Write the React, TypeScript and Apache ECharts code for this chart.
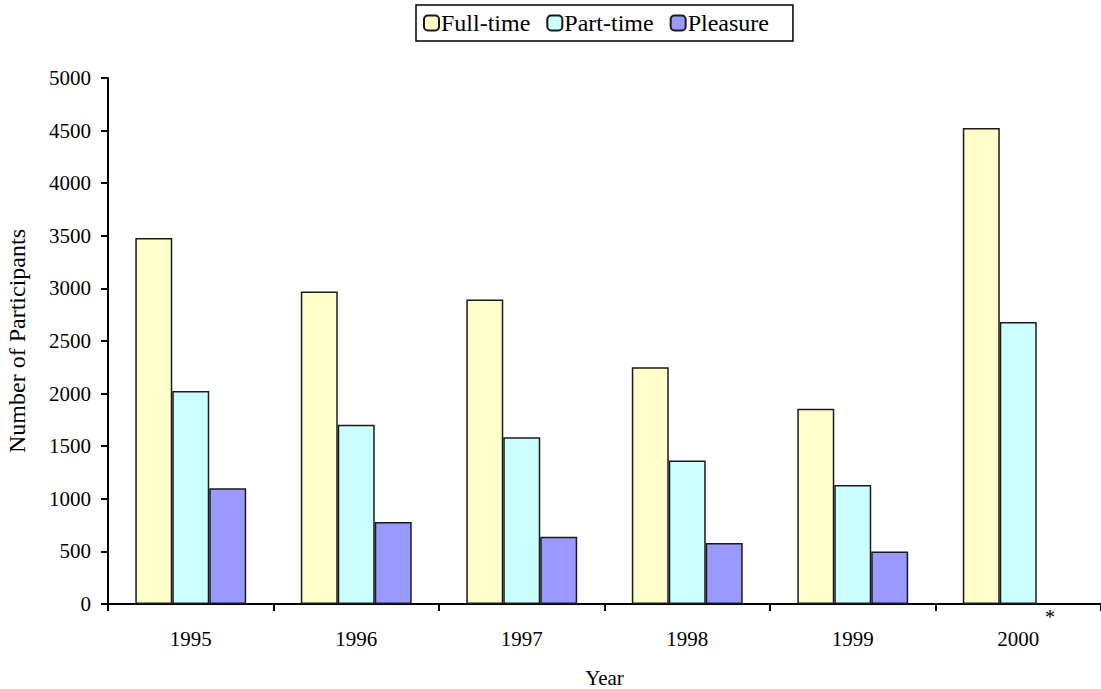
import React, { useEffect, useRef } from "react";
import * as echarts from "echarts";

const years = ["1995", "1996", "1997", "1998", "1999", "2000"];
const fullTime = [3480, 2970, 2895, 2250, 1855, 4525];
const partTime = [2025, 1705, 1585, 1365, 1130, 2680];
const pleasure = [1100, 780, 640, 580, 500, null];
const yTicks = { min: 0, max: 5000, interval: 500 };

const FONT = '"Liberation Serif", "Times New Roman", serif';

export default function App() {
  const ref = useRef<HTMLDivElement>(null);
  useEffect(() => {
    if (!ref.current) return;
    const chart = echarts.init(ref.current, undefined, { renderer: "svg" });
    const mkSeries = (name: string, data: (number | null)[], color: string) => ({
      name,
      type: "bar",
      data,
      barGap: "0%",
      barCategoryGap: "33%",
      itemStyle: { color, borderColor: "#1a1a1a", borderWidth: 1.5 },
    });
    chart.setOption({
      animation: false,
      backgroundColor: "#ffffff",
      textStyle: { fontFamily: FONT, color: "#000" },
      legend: {
        top: 5,
        left: 416,
        itemWidth: 15,
        itemHeight: 15,
        itemGap: 16,
        padding: [6, 24, 6, 7],
        borderColor: "#000",
        borderWidth: 1.5,
        textStyle: { fontFamily: FONT, fontSize: 24, color: "#000", padding: [0, 0, 0, -3] },
        data: ["Full-time", "Part-time", "Pleasure"],
      },
      grid: { left: 108, right: 0, top: 78, bottom: 85, containLabel: false, outerBoundsMode: "none" },
      xAxis: {
        type: "category",
        data: years,
        name: "Year",
        nameLocation: "middle",
        nameGap: 63,
        nameTextStyle: { fontFamily: FONT, fontSize: 21, color: "#000" },
        axisLine: { lineStyle: { color: "#000", width: 2 } },
        axisTick: { show: true, alignWithLabel: false, length: 7, lineStyle: { color: "#000", width: 2 } },
        axisLabel: { fontFamily: FONT, fontSize: 21, color: "#000", margin: 24 },
      },
      yAxis: {
        type: "value",
        min: yTicks.min,
        max: yTicks.max,
        interval: yTicks.interval,
        name: "Number of Participants",
        nameLocation: "middle",
        nameGap: 79,
        nameTextStyle: { fontFamily: FONT, fontSize: 24, color: "#000" },
        axisLine: { show: true, lineStyle: { color: "#000", width: 2 } },
        axisTick: { show: true, length: 7, lineStyle: { color: "#000", width: 2 } },
        axisLabel: {
          fontFamily: FONT,
          fontSize: 21,
          color: "#000",
          margin: 17,
          formatter: (v: number) => String(v),
        },
        splitLine: { show: false },
      },
      series: [
        mkSeries("Full-time", fullTime, "#FFFFCC"),
        mkSeries("Part-time", partTime, "#CCFFFF"),
        mkSeries("Pleasure", pleasure, "#9999FF"),
      ],
      graphic: [
        {
          type: "text",
          x: 1050,
          y: 607,
          style: { text: "*", fontFamily: FONT, fontSize: 20, fill: "#000", align: "center" },
        },
      ],
    });
    return () => chart.dispose();
  }, []);
  return (
    <div
      ref={ref}
      style={{ position: "absolute", left: 0, top: 0, width: 1101, height: 689 }}
    />
  );
}
